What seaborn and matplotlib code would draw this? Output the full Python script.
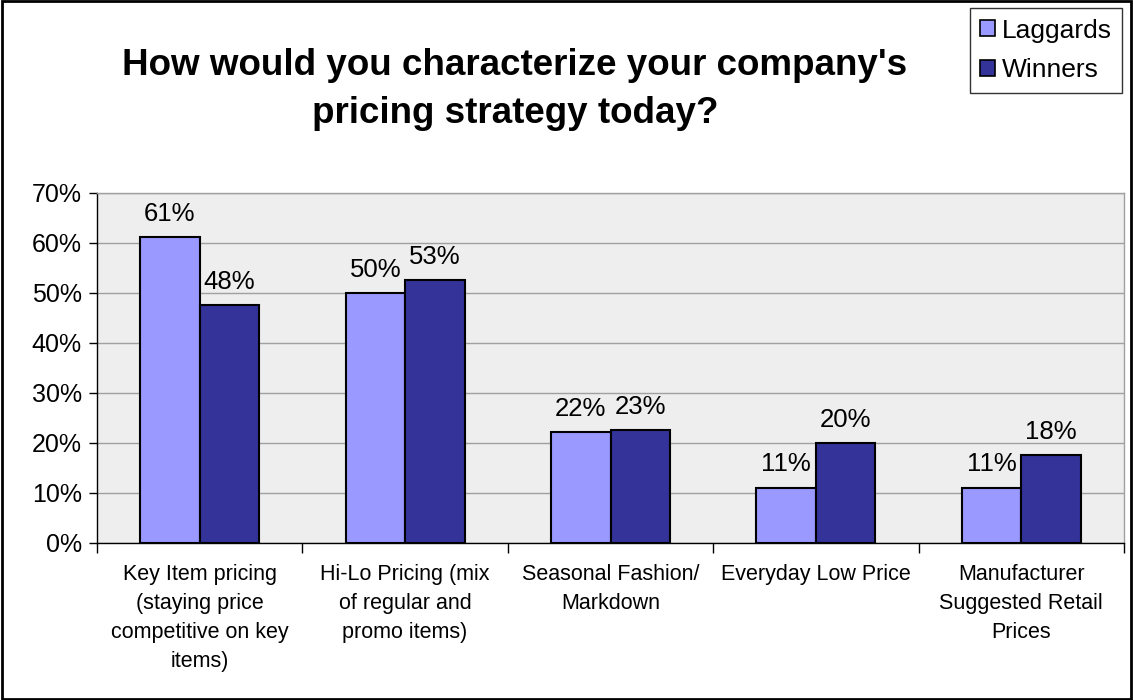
import matplotlib
matplotlib.use("Agg")
import matplotlib.pyplot as plt
import seaborn as sns
import pandas as pd
from matplotlib.patches import Rectangle
from matplotlib.ticker import FuncFormatter

categories = [
    "Key Item pricing\n(staying price\ncompetitive on key\nitems)",
    "Hi-Lo Pricing (mix\nof regular and\npromo items)",
    "Seasonal Fashion/\nMarkdown",
    "Everyday Low Price",
    "Manufacturer\nSuggested Retail\nPrices",
]
laggards = [61.2, 50.0, 22.2, 11.1, 11.1]
winners = [47.6, 52.6, 22.6, 20.0, 17.6]
series_names = ["Laggards", "Winners"]
series_colors = ["#9999FF", "#333399"]
y_ticks = [0, 10, 20, 30, 40, 50, 60, 70]
title_lines = ["How would you characterize your company's", "pricing strategy today?"]

df = pd.DataFrame({
    "category": categories * 2,
    "group": [series_names[0]] * len(categories) + [series_names[1]] * len(categories),
    "value": laggards + winners,
})

sns.set_theme(style="white")
plt.rcParams["font.family"] = ["Liberation Sans", "DejaVu Sans"]
plt.rcParams.update({"text.color": "black", "axes.labelcolor": "black",
                     "xtick.color": "black", "ytick.color": "black"})

W, H = 1133, 700
fig = plt.figure(figsize=(W / 100, H / 100), dpi=100)
ax = fig.add_axes([97 / W, 1 - 543 / H, (1124 - 97) / W, (543 - 193) / H])

sns.barplot(
    data=df, x="category", y="value", hue="group", order=categories,
    hue_order=series_names, palette=series_colors, width=0.58,
    edgecolor="black", linewidth=1.5, saturation=1, ax=ax, legend=False,
)

ax.set_facecolor("#EEEEEE")
ax.set_ylim(0, 70)
ax.set_xlim(-0.5, len(categories) - 0.5)
ax.set_yticks(y_ticks)
ax.yaxis.set_major_formatter(FuncFormatter(lambda v, _: f"{v:.0f}%"))
ax.grid(axis="y", color="#A0A0A0", linewidth=1)
ax.set_axisbelow(True)
ax.set_xlabel("")
ax.set_ylabel("")

for side in ("top", "right"):
    ax.spines[side].set_color("#A0A0A0")
    ax.spines[side].set_linewidth(1)
for side in ("left", "bottom"):
    ax.spines[side].set_color("black")
    ax.spines[side].set_linewidth(1)

# category ticks sit at the boundaries between groups
ax.set_xticks([i - 0.5 for i in range(len(categories) + 1)], minor=False)
ax.set_xticklabels([])
ax.tick_params(axis="x", which="major", direction="out", length=7, width=1, color="black", bottom=True)
ax.set_xticks(range(len(categories)), minor=True)
ax.set_xticklabels(categories, minor=True, fontsize=15.5, linespacing=1.5)
ax.tick_params(axis="x", which="minor", length=0, pad=15)
ax.tick_params(axis="y", direction="out", length=6, width=1, color="black", left=True, labelsize=18, pad=5)
for lbl in ax.get_xticklabels(minor=True):
    lbl.set_verticalalignment("top")

# value labels above each bar
for container, vals in zip(ax.containers, [laggards, winners]):
    ax.bar_label(container, labels=[f"{v:.0f}%" for v in vals], padding=8, fontsize=18.5)

# two-line bold title
for line, baseline in zip(title_lines, [75, 123]):
    fig.text(515 / W, 1 - baseline / H, line, ha="center", va="baseline",
             fontsize=26.5, fontweight="bold")

handles = [Rectangle((0, 0), 1, 1, facecolor=c, edgecolor="black", linewidth=1.2) for c in series_colors]
leg = fig.legend(handles, series_names, loc="upper right", bbox_to_anchor=(1122 / W, 1 - 8 / H),
                 fontsize=19, frameon=True, fancybox=False, edgecolor="black",
                 handlelength=0.55, handleheight=0.55, handletextpad=0.25, borderpad=0.4,
                 labelspacing=0.6, borderaxespad=0)
leg.get_frame().set_linewidth(1)

fig.patches.append(Rectangle((0.002, 0.002), 0.996, 0.996, transform=fig.transFigure,
                             fill=False, edgecolor="black", linewidth=2))

fig.savefig("out.png", dpi=100, facecolor="white")
